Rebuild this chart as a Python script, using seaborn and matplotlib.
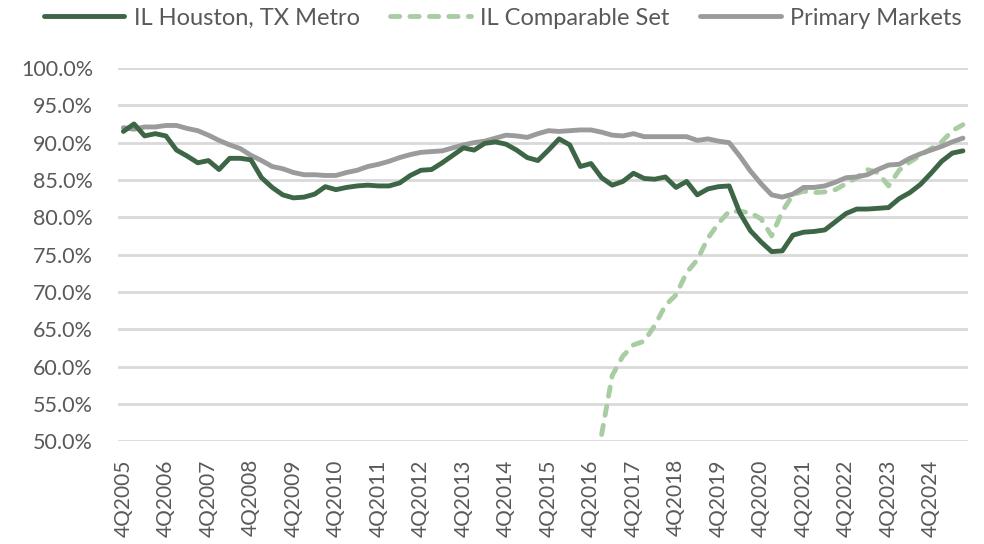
import numpy as np
import pandas as pd
import matplotlib
matplotlib.use("Agg")
import matplotlib.pyplot as plt
import seaborn as sns

# quarterly periods, 4Q2005 .. 3Q2025
quarters = ["4Q2005"] + [f"{q}Q{y}" for y in range(2006, 2026) for q in range(1, 5)]
quarters = quarters[:80]

houston = [
    91.5, 92.5, 90.9, 91.2, 90.9, 89.0, 88.2, 87.3, 87.6, 86.4,
    87.9, 87.9, 87.7, 85.3, 84.0, 83.0, 82.6, 82.7, 83.1, 84.1,
    83.7, 84.0, 84.2, 84.3, 84.2, 84.2, 84.6, 85.6, 86.3, 86.4,
    87.3, 88.3, 89.3, 89.0, 89.9, 90.1, 89.8, 89.0, 88.0, 87.6,
    89.0, 90.5, 89.7, 86.8, 87.2, 85.3, 84.3, 84.8, 85.9, 85.2,
    85.1, 85.4, 84.0, 84.8, 83.0, 83.8, 84.1, 84.2, 80.6, 78.2,
    76.7, 75.4, 75.5, 77.6, 78.0, 78.1, 78.3, 79.4, 80.5, 81.1,
    81.1, 81.2, 81.3, 82.5, 83.3, 84.4, 85.9, 87.5, 88.6, 88.9,
]

comparable = [np.nan] * 45 + [
    50.9, 58.8, 61.4, 62.9, 63.4,
    65.5, 68.2, 69.6, 72.6, 74.3, 77.2, 79.2, 80.8, 80.8, 80.6,
    79.8, 77.5, 80.8, 83.0, 83.5, 83.3, 83.4, 83.7, 84.5, 85.3,
    86.4, 86.0, 84.2, 86.3, 87.4, 88.3, 89.2, 90.1, 91.6, 92.4,
]

primary = [
    92.0, 91.8, 92.1, 92.1, 92.3, 92.3, 91.9, 91.6, 91.0, 90.3,
    89.7, 89.2, 88.3, 87.6, 86.8, 86.5, 86.0, 85.7, 85.7, 85.6,
    85.6, 86.0, 86.3, 86.8, 87.1, 87.5, 88.0, 88.4, 88.7, 88.8,
    88.9, 89.3, 89.7, 90.0, 90.2, 90.6, 91.0, 90.9, 90.7, 91.2,
    91.6, 91.5, 91.6, 91.7, 91.7, 91.4, 91.0, 90.9, 91.2, 90.8,
    90.8, 90.8, 90.8, 90.8, 90.3, 90.5, 90.2, 90.0, 88.2, 86.2,
    84.5, 83.0, 82.7, 83.1, 84.0, 84.0, 84.2, 84.7, 85.3, 85.4,
    85.7, 86.4, 87.0, 87.1, 87.9, 88.5, 89.0, 89.5, 90.1, 90.6,
]

yticks = [50, 55, 60, 65, 70, 75, 80, 85, 90, 95, 100]

df = pd.DataFrame({
    "idx": np.arange(len(quarters)),
    "IL Houston, TX Metro": houston,
    "IL Comparable Set": comparable,
    "Primary Markets": primary,
})

sns.set_theme(style="white")
plt.rcParams["font.family"] = ["Lato", "DejaVu Sans"]

fig, ax = plt.subplots(figsize=(9.84, 5.44), dpi=100)
fig.subplots_adjust(left=0.12, right=0.984, top=0.875, bottom=0.189)

lw = 3.5
sns.lineplot(data=df, x="idx", y="IL Houston, TX Metro", ax=ax, color="#3d6647",
             linewidth=lw, label="IL Houston, TX Metro", solid_capstyle="round")
sns.lineplot(data=df, x="idx", y="IL Comparable Set", ax=ax, color="#a9cda2",
             linewidth=lw, label="IL Comparable Set", dash_capstyle="round")
ax.lines[-1].set_dashes([1.9, 2.1])
sns.lineplot(data=df, x="idx", y="Primary Markets", ax=ax, color="#9b9b9b",
             linewidth=lw, label="Primary Markets", solid_capstyle="round")
# houston drawn on top of the others
ax.lines[0].set_zorder(5)

ax.set_xlim(-0.5, len(quarters) - 0.5)
ax.set_ylim(50, 100)
ax.set_yticks(yticks)
ax.set_yticklabels([f"{v:.1f}%" for v in yticks])
ax.set_xticks(np.arange(0, len(quarters), 4))
ax.set_xticklabels(quarters[::4], rotation=90)
ax.set_xlabel("")
ax.set_ylabel("")

ax.grid(axis="y", color="#d9d9d9", linewidth=2.0)
ax.set_axisbelow(True)
for s in ax.spines.values():
    s.set_visible(False)
ax.tick_params(axis="y", length=0, pad=18, labelsize=15.5, labelcolor="#595959")
ax.tick_params(axis="x", length=0, pad=13, labelsize=15, labelcolor="#595959")

ax.legend_.remove()
handles, labels = ax.get_legend_handles_labels()
fig.legend(handles, labels, loc="upper center", bbox_to_anchor=(0.511, 1.025), ncol=3,
           frameon=False, fontsize=17, labelcolor="#595959", handlelength=3.4,
           columnspacing=1.3, handletextpad=0.4)

fig.savefig("out.png", dpi=100)
